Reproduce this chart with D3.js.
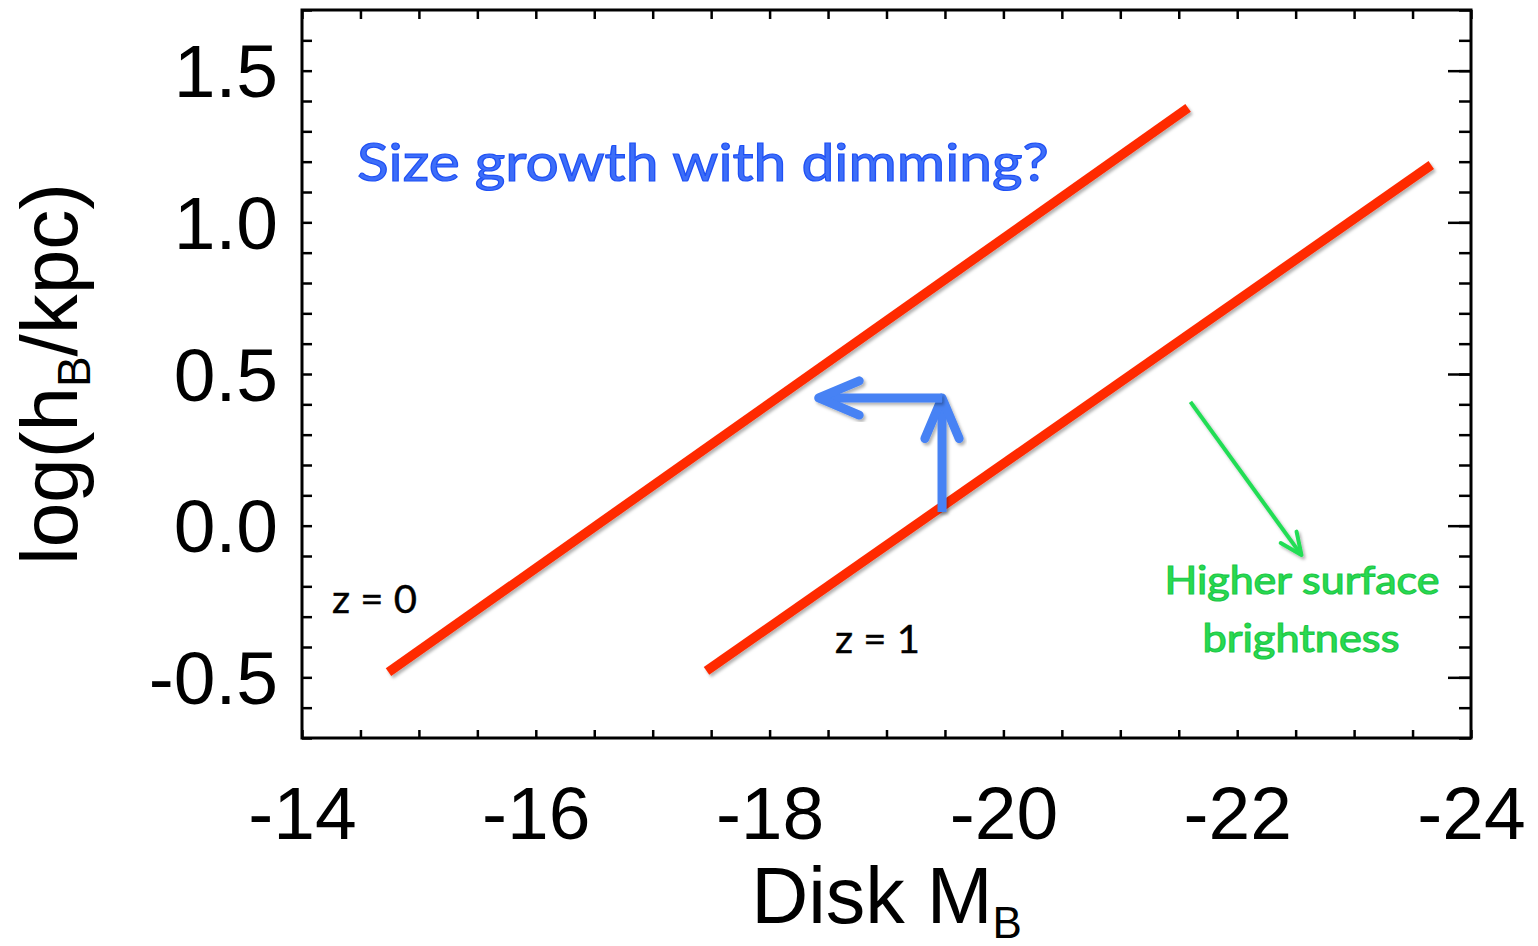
<!DOCTYPE html>
<html>
<head>
<meta charset="utf-8">
<script src="https://cdn.jsdelivr.net/npm/d3@7"></script>
<style>
  body { margin: 0; background: #fff; }
  .tick text { font-family: "Liberation Sans", Arial, sans-serif; fill: #000; }
  .tick line { stroke: #000; stroke-width: 2.5; }
</style>
</head>
<body>
<div id="chart"></div>
<script>
// chart values
var xTickLabels = [-14, -16, -18, -20, -22, -24];
var yTickLabels = [-0.5, 0.0, 0.5, 1.0, 1.5];

// the two size-luminance relations (Disk M_B, log h_B)
var z0Line = [[-14.74, -0.483], [-21.58, 1.377]];
var z1Line = [[-17.46, -0.479], [-23.66, 1.189]];

// blue arrows: up then left
var upArrow = [[-19.475, 0.045], [-19.475, 0.421]];
var leftArrow = [[-19.475, 0.421], [-18.42, 0.421]];
// green arrow
var greenArrow = [[-21.60, 0.408], [-22.55, -0.097]];

var svgWidth = 1538;
var svgHeight = 946;

var margin = { top: 10, right: 67, bottom: 208, left: 302 };
var width = svgWidth - margin.left - margin.right;
var height = svgHeight - margin.top - margin.bottom;

var svg = d3.select("#chart")
  .append("svg")
  .attr("width", svgWidth)
  .attr("height", svgHeight);

var defs = svg.append("defs");
var shadow = defs.append("filter").attr("id", "shadow")
  .attr("x", "-20%").attr("y", "-20%").attr("width", "140%").attr("height", "140%");
shadow.append("feDropShadow")
  .attr("dx", 2).attr("dy", 2.5).attr("stdDeviation", 1.8)
  .attr("flood-color", "#000").attr("flood-opacity", 0.3);

var chartGroup = svg.append("g")
  .attr("transform", `translate(${margin.left}, ${margin.top})`);

var x = d3.scaleLinear().domain([-14, -24]).range([0, width]);
var y = d3.scaleLinear().domain([-0.7, 1.7]).range([height, 0]);

// minor tick values
var xMinor = d3.range(0, 21).map(i => -14 - i * 0.5);
var yMinor = d3.range(-7, 18).map(i => i / 10);
var yMajor = yMinor.filter(v => Math.abs(v * 2 - Math.round(v * 2)) < 1e-6);

// bottom ticks
chartGroup.append("g")
  .attr("transform", `translate(0, ${height})`)
  .call(d3.axisBottom(x).tickValues(xMinor).tickSizeInner(-8).tickSizeOuter(0).tickFormat(""))
  .call(g => g.select(".domain").remove());

// top ticks
chartGroup.append("g")
  .call(d3.axisTop(x).tickValues(xMinor).tickSizeInner(-9).tickSizeOuter(0).tickFormat(""))
  .call(g => g.select(".domain").remove());

// left ticks
chartGroup.append("g")
  .call(d3.axisLeft(y).tickValues(yMinor).tickSizeInner(-10).tickSizeOuter(0).tickFormat(""))
  .call(g => g.select(".domain").remove());

// right ticks, minor and major
chartGroup.append("g")
  .attr("transform", `translate(${width}, 0)`)
  .call(d3.axisRight(y).tickValues(yMinor).tickSizeInner(-12).tickSizeOuter(0).tickFormat(""))
  .call(g => g.select(".domain").remove());
chartGroup.append("g")
  .attr("transform", `translate(${width}, 0)`)
  .call(d3.axisRight(y).tickValues(yMajor).tickSizeInner(-23).tickSizeOuter(0).tickFormat(""))
  .call(g => g.select(".domain").remove());

// tick labels
chartGroup.append("g")
  .attr("transform", `translate(0, ${height})`)
  .call(d3.axisBottom(x).tickValues(xTickLabels).tickSize(0).tickPadding(48).tickFormat(d3.format("d")))
  .call(g => g.select(".domain").remove())
  .selectAll("text")
  .attr("font-size", 75)
  .text(d => String(d).replace("−", "-"));

chartGroup.append("g")
  .call(d3.axisLeft(y).tickValues(yTickLabels).tickSize(0).tickPadding(24).tickFormat(d3.format(".1f")))
  .call(g => g.select(".domain").remove())
  .selectAll("text")
  .attr("font-size", 75)
  .attr("dy", "0.35em")
  .text(d => d3.format(".1f")(d).replace("−", "-"));

// frame
chartGroup.append("rect")
  .attr("x", 0).attr("y", 0)
  .attr("width", width).attr("height", height)
  .attr("fill", "none")
  .attr("stroke", "#000")
  .attr("stroke-width", 3);

// axis titles
var xTitle = svg.append("text")
  .attr("x", margin.left + width / 2)
  .attr("y", 923)
  .attr("text-anchor", "middle")
  .attr("font-family", "Liberation Sans, Arial, sans-serif")
  .attr("font-size", 79);
xTitle.append("tspan").text("Disk M");
xTitle.append("tspan").attr("font-size", 44).attr("dy", 15).text("B");

var yTitle = svg.append("text")
  .attr("transform", `translate(77, ${margin.top + height / 2}) rotate(-90)`)
  .attr("text-anchor", "middle")
  .attr("font-family", "Liberation Sans, Arial, sans-serif")
  .attr("font-size", 80);
yTitle.append("tspan").text("log(h");
yTitle.append("tspan").attr("font-size", 46).attr("dy", 13).text("B");
yTitle.append("tspan").attr("dy", -13).text("/kpc)");

// red relations
var line = d3.line().x(d => x(d[0])).y(d => y(d[1]));

chartGroup.selectAll(".relation")
  .data([z0Line, z1Line])
  .enter()
  .append("path")
  .attr("class", "relation")
  .attr("d", line)
  .attr("fill", "none")
  .attr("stroke", "#ff2a00")
  .attr("stroke-width", 9.5)
  .attr("filter", "url(#shadow)");

// arrows with open chevron heads
function drawArrow(pts, color, w, armLen, armAngle) {
  var p0 = [x(pts[0][0]), y(pts[0][1])];
  var p1 = [x(pts[1][0]), y(pts[1][1])];
  var ang = Math.atan2(p1[1] - p0[1], p1[0] - p0[0]);
  var a1 = [p1[0] - armLen * Math.cos(ang - armAngle), p1[1] - armLen * Math.sin(ang - armAngle)];
  var a2 = [p1[0] - armLen * Math.cos(ang + armAngle), p1[1] - armLen * Math.sin(ang + armAngle)];
  var g = chartGroup.append("g").attr("filter", "url(#shadow)");
  g.append("path")
    .attr("d", d3.line()([p0, p1]))
    .attr("stroke", color).attr("stroke-width", w).attr("fill", "none");
  g.append("path")
    .attr("d", d3.line()([a1, p1, a2]))
    .attr("stroke", color).attr("stroke-width", w).attr("fill", "none")
    .attr("stroke-linecap", "round").attr("stroke-linejoin", "round");
}

drawArrow(upArrow, "#4682f4", 9, 44, 0.40);
drawArrow(leftArrow, "#4682f4", 9, 44, 0.40);
drawArrow(greenArrow, "#22dd55", 4, 24, 0.42);

// annotations
chartGroup.append("text")
  .attr("x", x(-14.47)).attr("y", y(1.136))
  .attr("font-family", "Lato, 'Open Sans', sans-serif")
  .attr("font-size", 52)
  .attr("textLength", 692)
  .attr("lengthAdjust", "spacingAndGlyphs")
  .attr("fill", "#3d6ef8")
  .attr("stroke", "#1f50f5")
  .attr("stroke-width", 1.2)
  .text("Size growth with dimming?");

chartGroup.append("text")
  .attr("x", x(-14.257)).attr("y", y(-0.288))
  .attr("font-family", "Lato, 'Open Sans', sans-serif")
  .attr("font-size", 39)
  .attr("textLength", 85)
  .attr("lengthAdjust", "spacingAndGlyphs")
  .attr("stroke", "#000").attr("stroke-width", 0.4)
  .text("z = 0");

chartGroup.append("text")
  .attr("x", x(-18.559)).attr("y", y(-0.420))
  .attr("font-family", "Lato, 'Open Sans', sans-serif")
  .attr("font-size", 39)
  .attr("textLength", 85)
  .attr("lengthAdjust", "spacingAndGlyphs")
  .attr("stroke", "#000").attr("stroke-width", 0.4)
  .text("z = 1");

var green = chartGroup.append("text")
  .attr("text-anchor", "middle")
  .attr("font-family", "Lato, 'Open Sans', sans-serif")
  .attr("font-size", 39)
  .attr("fill", "#28dc50")
  .attr("stroke", "#20c848")
  .attr("stroke-width", 1.2);
green.append("tspan")
  .attr("x", x(-22.554)).attr("y", y(-0.2255))
  .attr("textLength", 275).attr("lengthAdjust", "spacingAndGlyphs")
  .text("Higher surface");
green.append("tspan")
  .attr("x", x(-22.545)).attr("y", y(-0.417))
  .attr("textLength", 197).attr("lengthAdjust", "spacingAndGlyphs")
  .text("brightness");
</script>
</body>
</html>
